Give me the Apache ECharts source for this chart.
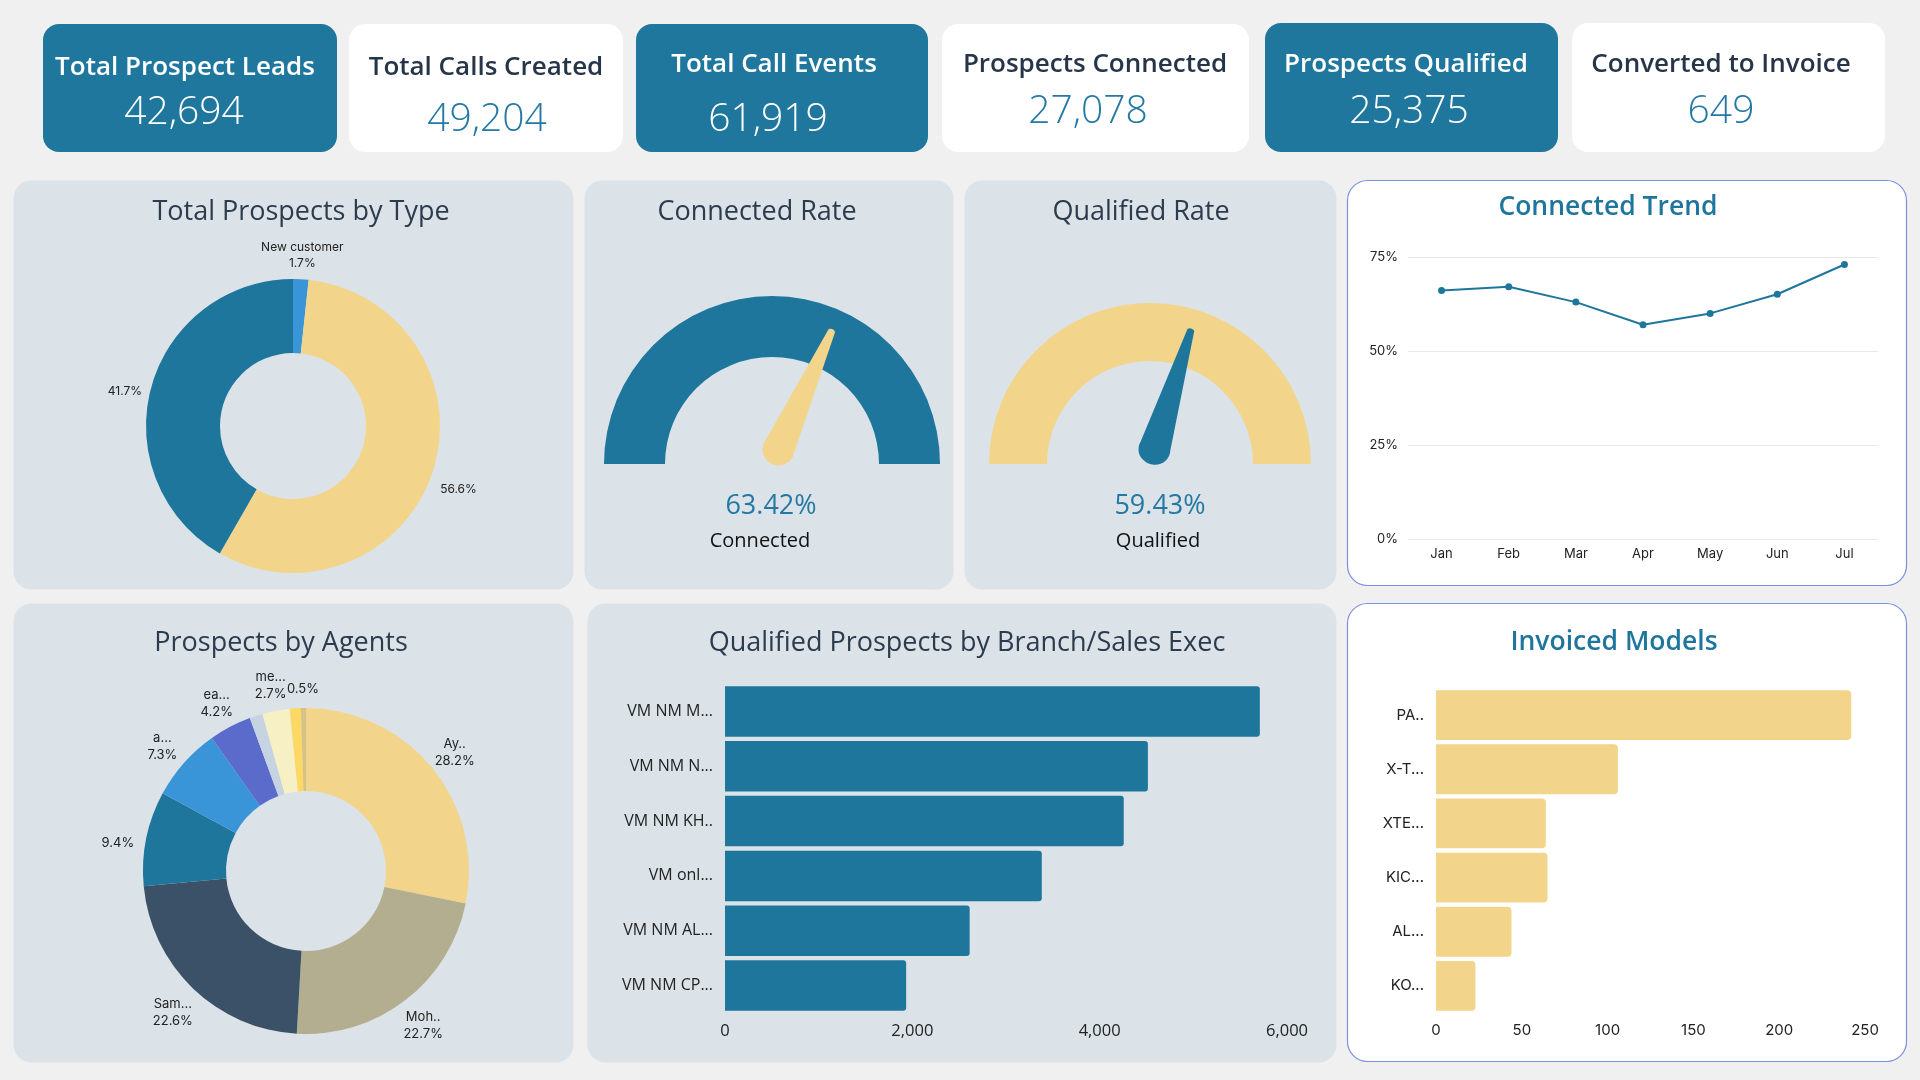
<!DOCTYPE html>
<html>
<head>
<meta charset="utf-8">
<script src="https://cdn.jsdelivr.net/npm/echarts@6/dist/echarts.min.js"></script>
<style>
  html, body { margin: 0; padding: 0; background: #f0f0f0; }
  #main { width: 1920px; height: 1080px; }
</style>
</head>
<body>
<div id="main"></div>
<script>
// ---------------- data ----------------
const kpiTitles = ['Total Prospect Leads', 'Total Calls Created', 'Total Call Events',
                   'Prospects Connected', 'Prospects Qualified', 'Converted to Invoice'];
const kpiValues = [42694, 49204, 61919, 27078, 25375, 649];

const typeCaptions = ['New customer', '', ''];
const typeShares = [1.7, 56.6, 41.7];

const connectedRate = 63.42;
const qualifiedRate = 59.43;

const months = ['Jan', 'Feb', 'Mar', 'Apr', 'May', 'Jun', 'Jul'];
const connectedTrend = [66.1, 67.1, 63.0, 57.0, 60.0, 65.1, 73.0];

const agentCaptions = ['Ay..', 'Moh..', 'Sam...', '', 'a...', 'ea...', '', 'me...', '', ''];
const agentShares = [28.2, 22.7, 22.6, 9.4, 7.3, 4.2, 1.3, 2.7, 1.1, 0.5];
const agentLabelVisible = [true, true, true, true, true, true, false, true, false, true];

const branchNames = ['VM NM M...', 'VM NM N...', 'VM NM KH..', 'VM onl...', 'VM NM AL...', 'VM NM CP...'];
const branchQualified = [5710, 4515, 4257, 3382, 2612, 1934];

const modelNames = ['PA..', 'X-T...', 'XTE...', 'KIC...', 'AL...', 'KO...'];
const modelInvoiced = [242, 106, 64, 65, 44, 23];

// ---------------- style ----------------
const TEAL = '#1f769c';
const SAND = '#f2d58a';
const CARD = '#dbe3e8';
const INK = '#2c3b4e';
const HEAD = '"Open Sans", "Noto Sans", sans-serif';
const BODY = 'Inter, "Noto Sans", sans-serif';

const typeColors = ['#3a95d8', SAND, TEAL];
const agentColors = [SAND, '#b3ae8f', '#3b5168', TEAL, '#3a95d8', '#5a6bcc', '#c5d3e2', '#f7f0c4', '#fdd865', '#d4c385'];

const kpiLayout = [
  { x: 43,   y: 24, w: 294, h: 128, dark: true,  tx: 185,  ty: 68, vx: 184,  vy: 113 },
  { x: 349,  y: 24, w: 274, h: 128, dark: false, tx: 486,  ty: 68, vx: 487,  vy: 120 },
  { x: 636,  y: 24, w: 292, h: 128, dark: true,  tx: 774,  ty: 65, vx: 768,  vy: 120 },
  { x: 942,  y: 24, w: 307, h: 128, dark: false, tx: 1095, ty: 65, vx: 1088, vy: 112 },
  { x: 1265, y: 23, w: 293, h: 129, dark: true,  tx: 1406, ty: 65, vx: 1409, vy: 112 },
  { x: 1572, y: 23, w: 313, h: 129, dark: false, tx: 1721, ty: 65, vx: 1721, vy: 112 }
];

const cardLayout = [
  { x: 13,   y: 180, w: 560, h: 409, white: false },
  { x: 584,  y: 180, w: 369, h: 409, white: false },
  { x: 964,  y: 180, w: 372, h: 409, white: false },
  { x: 1347, y: 180, w: 559, h: 405, white: true },
  { x: 13,   y: 603, w: 560, h: 459, white: false },
  { x: 587,  y: 603, w: 749, h: 459, white: false },
  { x: 1347, y: 603, w: 559, h: 458, white: true }
];

const chartTitles = [
  { text: 'Total Prospects by Type', x: 301, y: 212, color: INK, weight: 400, size: 27 },
  { text: 'Connected Rate', x: 757, y: 212, color: INK, weight: 400, size: 27 },
  { text: 'Qualified Rate', x: 1141, y: 212, color: INK, weight: 400, size: 27 },
  { text: 'Connected Trend', x: 1608, y: 207, color: TEAL, weight: 600, size: 26.5 },
  { text: 'Prospects by Agents', x: 281, y: 643, color: INK, weight: 400, size: 27 },
  { text: 'Qualified Prospects by Branch/Sales Exec', x: 967, y: 643, color: INK, weight: 400, size: 27 },
  { text: 'Invoiced Models', x: 1614, y: 642, color: TEAL, weight: 600, size: 26.5 }
];

// ---------------- graphic ----------------
const graphics = [];
cardLayout.forEach(c => {
  graphics.push({
    type: 'rect', z: 0,
    shape: { x: c.x + 0.5, y: c.y + 0.5, width: c.w, height: c.h, r: c.white ? 20 : 18 },
    style: c.white ? { fill: '#ffffff', stroke: '#7d8fe0', lineWidth: 1.2 } : { fill: CARD }
  });
});
kpiLayout.forEach((k, i) => {
  graphics.push({
    type: 'rect', z: 0,
    shape: { x: k.x, y: k.y, width: k.w, height: k.h, r: 16 },
    style: { fill: k.dark ? '#20779d' : '#ffffff' }
  });
  graphics.push({
    type: 'text', z: 5, x: k.tx, y: k.ty,
    style: { text: kpiTitles[i], fill: k.dark ? '#ffffff' : '#263548', font: '600 26px ' + HEAD,
             align: 'center', verticalAlign: 'middle' }
  });
  graphics.push({
    type: 'text', z: 5, x: k.vx, y: k.vy,
    style: { text: kpiValues[i].toLocaleString('en-US'), fill: k.dark ? '#ffffff' : '#2479a4',
             font: '300 39px ' + HEAD, align: 'center', verticalAlign: 'middle' }
  });
});
chartTitles.forEach(t => {
  graphics.push({
    type: 'text', z: 5, x: t.x, y: t.y,
    style: { text: t.text, fill: t.color, font: t.weight + ' ' + t.size + 'px ' + HEAD,
             align: 'center', verticalAlign: 'middle' }
  });
});

// ---------------- helpers ----------------
const pointerIcon = 'path://M12.5,2 Q16,-1 19.5,2 L31.5,131 A16,16 0 1,1 0.5,131 Z';

function pctLabel(caption, p) {
  const pct = p.toFixed(1) + '%';
  return caption ? caption + '\n' + pct : pct;
}

function gauge(center, radius, width, value, name, arcColor, needleColor, detailX, titleX) {
  return {
    type: 'gauge', center: center, radius: radius, startAngle: 180, endAngle: 0,
    min: 0, max: 100, animation: false,
    axisLine: { lineStyle: { width: width, color: [[1, arcColor]] } },
    splitLine: { show: false }, axisTick: { show: false }, axisLabel: { show: false },
    progress: { show: false }, anchor: { show: false },
    pointer: { icon: pointerIcon, length: '88%', width: 32, itemStyle: { color: needleColor } },
    title: { offsetCenter: [titleX, 77], fontSize: 20, color: '#111', fontFamily: HEAD },
    detail: { offsetCenter: [detailX, 42], fontSize: 27, color: '#2479a4', fontFamily: HEAD,
              fontWeight: 400, formatter: v => v.toFixed(2) + '%' },
    data: [{ value: value, name: name }]
  };
}

const typeData = typeShares.map((v, i) => ({ value: v, name: typeCaptions[i] || ('type ' + (i + 1)),
  itemStyle: { color: typeColors[i] } }));
const agentData = agentShares.map((v, i) => ({ value: v, name: agentCaptions[i] || ('agent ' + (i + 1)),
  itemStyle: { color: agentColors[i] } }));

const option = {
  animation: false,
  backgroundColor: '#f0f0f0',
  graphic: { elements: graphics },
  grid: [
    { left: 1408, right: 42, top: 257, bottom: 541 },     // trend
    { left: 725, right: 633, top: 684, bottom: 67 },      // branch
    { left: 1436, right: 55, top: 688, bottom: 67 }       // models
  ],
  xAxis: [
    { gridIndex: 0, type: 'category', data: months, boundaryGap: true,
      axisLine: { show: false }, axisTick: { show: false },
      axisLabel: { margin: 9, fontSize: 13, color: '#222', fontFamily: BODY } },
    { gridIndex: 1, type: 'value', min: 0, max: 6000, interval: 2000,
      splitLine: { show: false }, axisLine: { show: false }, axisTick: { show: false },
      axisLabel: { margin: 10, fontSize: 16.5, color: '#222', fontFamily: HEAD } },
    { gridIndex: 2, type: 'value', min: 0, max: 250, interval: 50,
      splitLine: { show: false }, axisLine: { show: false }, axisTick: { show: false },
      axisLabel: { margin: 10, fontSize: 15, color: '#222', fontFamily: BODY } }
  ],
  yAxis: [
    { gridIndex: 0, type: 'value', min: 0, max: 75, interval: 25,
      splitLine: { lineStyle: { color: '#e8e8e8' } }, axisLine: { show: false }, axisTick: { show: false },
      axisLabel: { margin: 10, fontSize: 13, color: '#222', fontFamily: BODY, formatter: '{value}%' } },
    { gridIndex: 1, type: 'category', data: branchNames, inverse: true,
      axisLine: { show: false }, axisTick: { show: false },
      axisLabel: { margin: 12, fontSize: 16, color: '#222', fontFamily: HEAD } },
    { gridIndex: 2, type: 'category', data: modelNames, inverse: true,
      axisLine: { show: false }, axisTick: { show: false },
      axisLabel: { margin: 12, fontSize: 15, color: '#222', fontFamily: BODY } }
  ],
  series: [
    // prospects by type
    { type: 'pie', center: [293, 426], radius: [73, 147], startAngle: 90, clockwise: true,
      silent: true, label: { show: false }, labelLine: { show: false }, data: typeData },
    { type: 'pie', center: [293, 426], radius: [170, 172], startAngle: 90, clockwise: true,
      silent: true, percentPrecision: 1, itemStyle: { color: 'rgba(0,0,0,0)' },
      labelLine: { show: false },
      label: { show: true, position: 'inside', color: '#222', fontSize: 12, lineHeight: 16, fontFamily: BODY,
               formatter: p => pctLabel(typeCaptions[p.dataIndex], p.percent) },
      labelLayout: p => ({ dy: typeCaptions[p.dataIndex] ? 3 : 10 }),
      data: typeShares.map((v, i) => ({ value: v, name: 'lbl' + i })) },

    // gauges
    gauge([772, 464], 168, 61, connectedRate, 'Connected', TEAL, SAND, -1, -12),
    gauge([1150, 464], 161, 58, qualifiedRate, 'Qualified', SAND, TEAL, 10, 8),

    // trend
    { type: 'line', xAxisIndex: 0, yAxisIndex: 0, data: connectedTrend,
      symbol: 'circle', symbolSize: 7, lineStyle: { color: TEAL, width: 2 }, itemStyle: { color: TEAL } },

    // agents
    { type: 'pie', center: [306, 871], radius: [80, 163], startAngle: 90, clockwise: true,
      silent: true, label: { show: false }, labelLine: { show: false }, data: agentData },
    { type: 'pie', center: [306, 871], radius: [188, 190], startAngle: 90, clockwise: true,
      silent: true, percentPrecision: 1, itemStyle: { color: 'rgba(0,0,0,0)' },
      labelLine: { show: false },
      label: { show: true, position: 'inside', color: '#222', fontSize: 13, lineHeight: 17, fontFamily: BODY,
               formatter: p => pctLabel(agentCaptions[p.dataIndex], p.percent) },
      labelLayout: p => ({ dy: agentCaptions[p.dataIndex] ? 3 : 10 }),
      data: agentShares.map((v, i) => ({ value: v, name: 'lbl' + i,
               label: { show: agentLabelVisible[i] } })) },

    // branch bars
    { type: 'bar', xAxisIndex: 1, yAxisIndex: 1, data: branchQualified, barCategoryGap: '8%',
      itemStyle: { color: TEAL, borderRadius: [0, 3, 3, 0] } },

    // invoiced models
    { type: 'bar', xAxisIndex: 2, yAxisIndex: 2, data: modelInvoiced, barCategoryGap: '8%',
      itemStyle: { color: SAND, borderRadius: [0, 4, 4, 0] } }
  ]
};

const chart = echarts.init(document.getElementById('main'), null, { renderer: 'canvas' });
chart.setOption(option);
</script>
</body>
</html>
